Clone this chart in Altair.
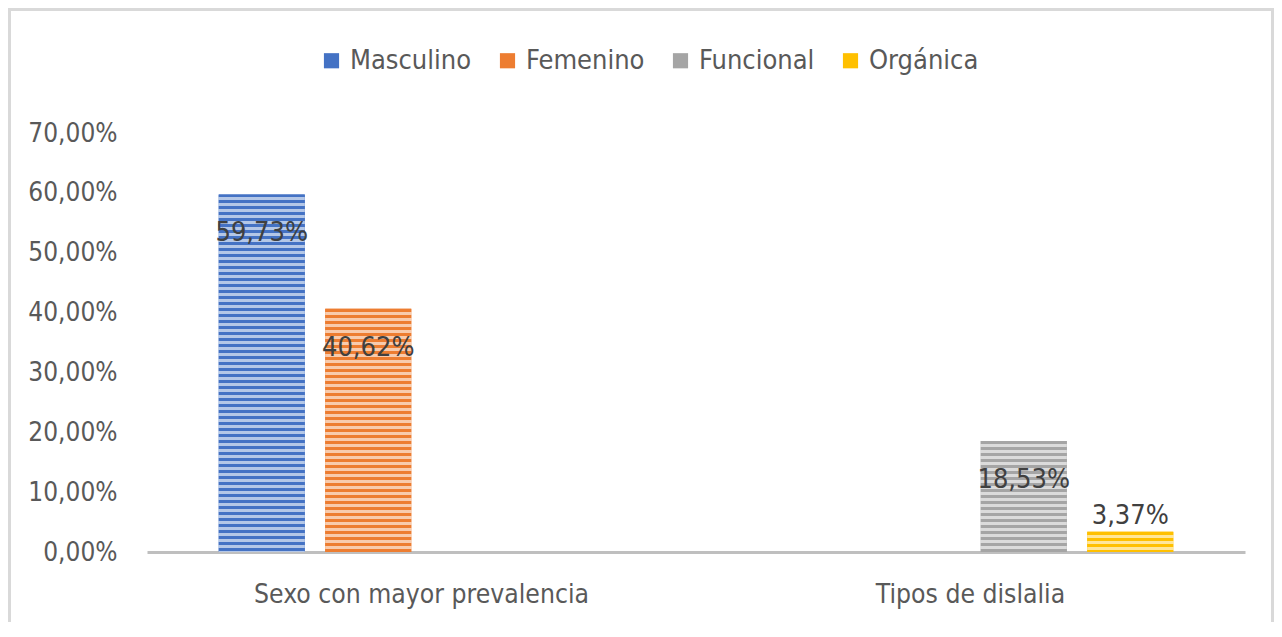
import altair as alt
import pandas as pd

# ---- data ----
categorias = ["Sexo con mayor prevalencia", "Tipos de dislalia"]
series = ["Masculino", "Femenino", "Funcional", "Orgánica"]
masculino = [0.5973, None]
femenino = [0.4062, None]
funcional = [None, 0.1853]
organica = [None, 0.0337]
y_ticks = [0.0, 0.1, 0.2, 0.3, 0.4, 0.5, 0.6, 0.7]

# ---- style ----
colores = ["#4472C4", "#ED7D31", "#A5A5A5", "#FFC000"]
FONT = "DejaVu Sans Condensed, Liberation Sans Narrow, sans-serif"
Y_MAX = 0.7
PLOT_W, PLOT_H = 1098, 419
STRIPE = 6.0

valores = {"Masculino": masculino, "Femenino": femenino,
           "Funcional": funcional, "Orgánica": organica}
rows = []
for s in series:
    for c, v in zip(categorias, valores[s]):
        if v is not None:
            rows.append({"categoria": c, "serie": s, "valor": v})
df = pd.DataFrame(rows)

label_expr = "replace(format(datum.valor, '.2%'), '.', ',')"


def mix_white(hexc, t):
    r, g, b = int(hexc[1:3], 16), int(hexc[3:5], 16), int(hexc[5:7], 16)
    r = round(r + (255 - r) * t)
    g = round(g + (255 - g) * t)
    b = round(b + (255 - b) * t)
    return "#%02X%02X%02X" % (r, g, b)


def stripes(color, value):
    h = value / Y_MAX * PLOT_H
    light = mix_white(color, 0.6)
    stops = []
    pos = 0.0
    k = 0
    while pos < h:
        c = color if k % 2 == 0 else light
        end = min(pos + STRIPE / 2, h)
        stops.append(alt.GradientStop(color=c, offset=pos / h))
        stops.append(alt.GradientStop(color=c, offset=end / h))
        pos = end
        k += 1
    return alt.Gradient(gradient="linear", x1=0, x2=0, y1=0, y2=1, stops=stops)


x_enc = alt.X(
    "categoria:N", sort=categorias,
    scale=alt.Scale(domain=categorias, paddingInner=0.224, paddingOuter=0.112),
    axis=alt.Axis(title=None, labelAngle=0, ticks=False, grid=False,
                  domainColor="#BFBFBF", domainWidth=3, labelPadding=29,
                  labelFontSize=26.3, labelColor="#595959", labelFont=FONT,
                  labelLimit=0),
)
xo_enc = alt.XOffset(
    "serie:N", sort=series,
    scale=alt.Scale(domain=series, paddingInner=0.192, paddingOuter=0.096),
)
y_enc = alt.Y(
    "valor:Q",
    scale=alt.Scale(domain=[0, Y_MAX], nice=False, zero=True),
    axis=alt.Axis(title=None, values=y_ticks, domain=False, ticks=False, grid=False,
                  labelExpr="replace(format(datum.value, '.2%'), '.', ',')",
                  labelPadding=30, labelFontSize=26, labelColor="#595959",
                  labelFont=FONT),
)

base = alt.Chart(df)

border = alt.Chart(pd.DataFrame({"categoria": categorias[:1]})).mark_rect(
    fillOpacity=0, stroke="#D9D9D9", strokeWidth=3
).encode(
    x=alt.value(-137.5), x2=alt.value(1125.5),
    y=alt.value(-123.5), y2=alt.value(620),
)

solid = base.mark_bar().encode(
    x=x_enc, xOffset=xo_enc, y=y_enc,
    color=alt.Color(
        "serie:N", sort=series,
        scale=alt.Scale(domain=series, range=colores),
        legend=alt.Legend(title=None, orient="none", legendX=171, legendY=-86,
                          direction="horizontal", symbolType="square",
                          symbolSize=230, symbolStrokeWidth=0, padding=0,
                          labelFontSize=27, labelColor="#595959", labelFont=FONT,
                          labelOffset=5, columnPadding=22),
    ),
)

layers = [border, solid]
for s, col in zip(series, colores):
    v = max(x for x in valores[s] if x is not None)
    layers.append(
        base.transform_filter(alt.datum.serie == s)
        .mark_bar(color=stripes(col, v))
        .encode(x=x_enc, xOffset=xo_enc, y=y_enc)
    )

text_big = base.transform_filter(alt.datum.valor >= 0.1).transform_calculate(
    etiqueta=label_expr
).mark_text(font=FONT, fontSize=27, color="#404040", baseline="middle", dy=39).encode(
    x=x_enc, xOffset=xo_enc, y=y_enc, text="etiqueta:N"
)
text_small = base.transform_filter(alt.datum.valor < 0.1).transform_calculate(
    etiqueta=label_expr
).mark_text(font=FONT, fontSize=27, color="#404040", baseline="middle", dy=-16).encode(
    x=x_enc, xOffset=xo_enc, y=y_enc, text="etiqueta:N"
)
layers += [text_big, text_small]

chart = alt.layer(*layers).properties(
    width=PLOT_W, height=PLOT_H,
    autosize=alt.AutoSizeParams(type="none"),
    padding={"left": 139, "top": 125, "right": 29, "bottom": 70},
    background="white",
).configure_view(stroke=None)

chart.save("out.html", embed_options={"renderer": "svg", "actions": False})
